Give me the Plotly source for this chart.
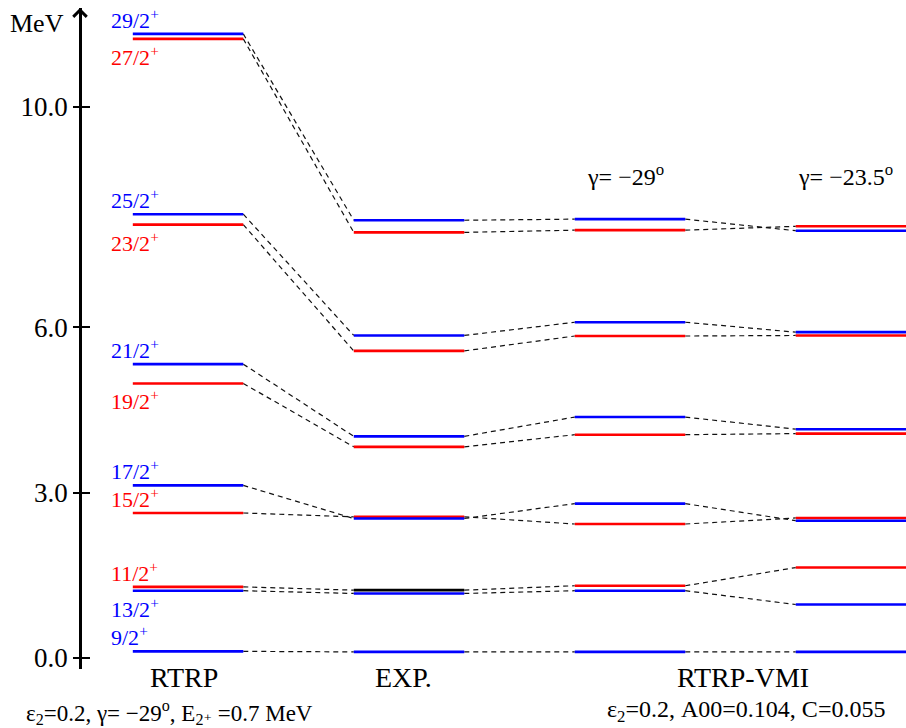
import plotly.graph_objects as go

# ---------------- data ----------------
states = ["9/2", "11/2", "13/2", "15/2", "17/2", "19/2", "21/2", "23/2", "25/2", "27/2", "29/2"]
state_colors = ["blue", "red", "blue", "red", "blue", "red", "blue", "red", "blue", "red", "blue"]

rtrp = [0.12, 1.29, 1.22, 2.63, 3.13, 4.98, 5.33, 7.86, 8.05, 11.23, 11.32]
exp_ = [0.11, 1.23, 1.17, 2.56, 2.53, 3.83, 4.02, 5.57, 5.85, 7.72, 7.94]
vmi29 = [0.11, 1.31, 1.22, 2.43, 2.80, 4.05, 4.37, 5.84, 6.09, 7.76, 7.96]
vmi235 = [0.11, 1.64, 0.97, 2.54, 2.49, 4.07, 4.15, 5.85, 5.91, 7.83, 7.75]

columns = [rtrp, exp_, vmi29, vmi235]
# colour overrides (column index, state index) -> colour
color_override = {(1, 1): "black"}

tick_vals = [0, 3, 6, 10]
tick_text = ["0.0", "3.0", "6.0", "10.0"]

# label side for the spin labels on the RTRP column
label_side = ["above", "above", "below", "above", "above", "below",
              "above", "below", "above", "below", "above"]

# ---------------- style ----------------
FONT = "'Liberation Serif', 'Times New Roman', Tinos, 'DejaVu Serif', serif"
COL = {"blue": "#0000ff", "red": "#ff0000", "black": "#000000"}
HALF = 0.25
AXIS_POS = 80 / 906

fig = go.Figure()

# dashed connectors
for s in range(len(states)):
    xs, ys = [], []
    for i in range(len(columns) - 1):
        xs += [i + HALF, i + 1 - HALF, None]
        ys += [columns[i][s], columns[i + 1][s], None]
    fig.add_trace(go.Scatter(x=xs, y=ys, mode="lines", hoverinfo="skip",
                             line=dict(color="#111111", width=1.2, dash="5px,4px"),
                             showlegend=False))

# levels
for i, col in enumerate(columns):
    for s, e in enumerate(col):
        c = color_override.get((i, s), state_colors[s])
        fig.add_trace(go.Scatter(x=[i - HALF, i + HALF], y=[e, e], mode="lines",
                                 line=dict(color=COL[c], width=2.6),
                                 showlegend=False, hoverinfo="skip"))

# invisible trace for second (inside-tick) axis
fig.add_trace(go.Scatter(x=[0], y=[0], yaxis="y2", mode="markers",
                         marker=dict(opacity=0), showlegend=False, hoverinfo="skip"))

annotations = []
# spin labels
for s, name in enumerate(states):
    above = label_side[s] == "above"
    annotations.append(dict(
        x=-HALF, y=rtrp[s], xref="x", yref="y", xanchor="left", yanchor="middle",
        xshift=-24, yshift=(15 if above else -17),
        text=f"{name}<sup>+</sup>", showarrow=False,
        font=dict(family=FONT, size=22, color=COL[state_colors[s]])))

# axis arrow
annotations.append(dict(x=AXIS_POS, y=1, xref="paper", yref="paper", ax=0, ay=40,
                        text="", showarrow=True, arrowhead=4, arrowsize=1.3,
                        arrowwidth=2, arrowcolor="black"))
# MeV
annotations.append(dict(x=37 / 906, y=0.976, xref="paper", yref="paper",
                        text="MeV", showarrow=False, xanchor="center", yanchor="middle",
                        font=dict(family=FONT, size=26, color="black")))
# column labels
for x, txt, xs in [(0, "RTRP", -4), (1, "EXP.", -6), (2.5, "RTRP-VMI", 3)]:
    annotations.append(dict(x=x, y=-0.013, xref="x", yref="paper", xshift=xs,
                            text=txt, showarrow=False, xanchor="center", yanchor="middle",
                            font=dict(family=FONT, size=28, color="black")))
# gamma labels
for x, txt in [(2, "γ= −29<sup>o</sup>"), (3, "γ= −23.5<sup>o</sup>")]:
    annotations.append(dict(x=x, y=0.748, xref="x", yref="paper", xshift=-5,
                            text=txt, showarrow=False, xanchor="center", yanchor="middle",
                            font=dict(family=FONT, size=24, color="black")))
# parameter lines
annotations.append(dict(x=169 / 906, y=-0.066, xref="paper", yref="paper",
                        text="ε<sub>2</sub>=0.2, γ= −29<sup>o</sup>, E<sub>2⁺</sub> =0.7 MeV",
                        showarrow=False, xanchor="center", yanchor="middle",
                        font=dict(family=FONT, size=23, color="black")))
annotations.append(dict(x=2.5, y=-0.064, xref="x", yref="paper", xshift=6,
                        text="ε<sub>2</sub>=0.2, A00=0.104, C=0.055",
                        showarrow=False, xanchor="center", yanchor="middle",
                        font=dict(family=FONT, size=24, color="black")))

yr = [-0.2, 11.79]
fig.update_layout(
    width=906, height=728,
    margin=dict(l=0, r=0, t=8, b=59),
    paper_bgcolor="white", plot_bgcolor="white",
    showlegend=False,
    font=dict(family=FONT),
    xaxis=dict(range=[-0.851, 3.249], visible=False),
    yaxis=dict(range=yr, anchor="free", position=AXIS_POS, side="left",
               tickvals=tick_vals, ticktext=tick_text, ticks="outside",
               ticklen=6, tickwidth=2, tickcolor="black",
               showline=True, linewidth=2.5, linecolor="black",
               showgrid=False, zeroline=False,
               tickfont=dict(family=FONT, size=27, color="black")),
    yaxis2=dict(range=yr, overlaying="y", anchor="free", position=AXIS_POS, side="left",
                tickvals=tick_vals, ticks="inside", ticklen=9, tickwidth=2,
                tickcolor="black", showticklabels=False, showline=False,
                showgrid=False, zeroline=False),
    annotations=annotations,
)

fig.write_html("out.html")
